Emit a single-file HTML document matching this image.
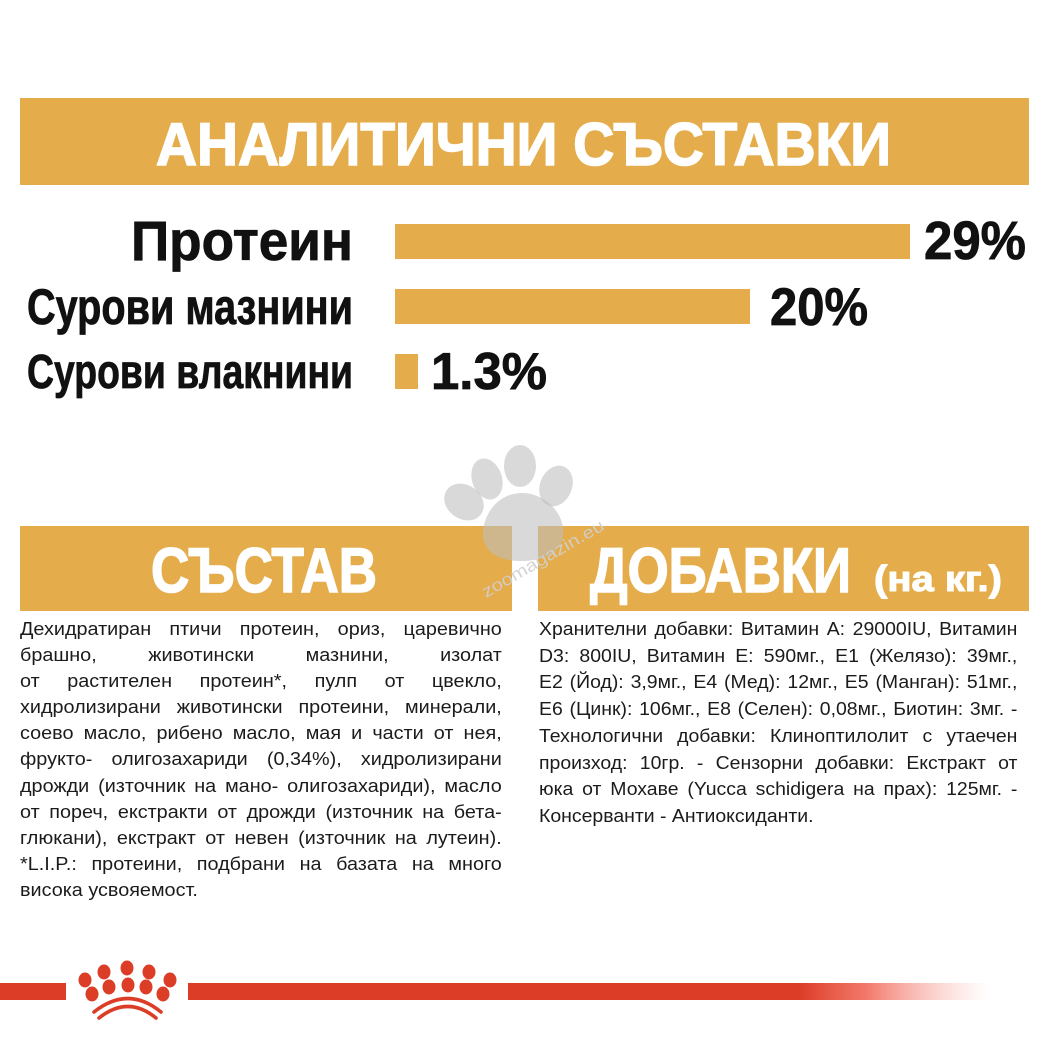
<!DOCTYPE html>
<html><head><meta charset="utf-8">
<style>
html,body{margin:0;padding:0;background:#fff;}
body{width:1049px;height:1049px;position:relative;overflow:hidden;}
svg.bg{position:absolute;left:0;top:0;}
.blk{position:absolute;font-family:"Liberation Sans","DejaVu Sans",sans-serif;font-size:18px;color:#1b1b1b;transform-origin:0 0;}
.j{display:flex;justify-content:space-between;white-space:nowrap;column-gap:3px;}
.l{white-space:nowrap;}
</style></head>
<body>
<svg class="bg" width="1049" height="1049" viewBox="0 0 1049 1049">
  <defs>
    <linearGradient id="fade" x1="0" x2="1" y1="0" y2="0">
      <stop offset="0" stop-color="#DC3D27" stop-opacity="1"/>
      <stop offset="0.35" stop-color="#F06A5A" stop-opacity="0.9"/>
      <stop offset="1" stop-color="#F8B0A8" stop-opacity="0"/>
    </linearGradient>
  </defs>
  <!-- Top banner -->
  <rect x="20" y="98" width="1009" height="87" fill="#E4AC4A"/>
  <text x="156" y="165" font-family="Liberation Sans Narrow, Liberation Sans, sans-serif" font-weight="bold" font-size="60" fill="#fff" stroke="#fff" stroke-width="1.6" textLength="735" lengthAdjust="spacingAndGlyphs">АНАЛИТИЧНИ СЪСТАВКИ</text>

  <!-- Labels -->
  <g font-family="Liberation Sans Narrow, Liberation Sans, sans-serif" font-weight="bold" fill="#111" stroke="#111" stroke-width="0.8">
    <text x="131" y="260" font-size="56" textLength="222" lengthAdjust="spacingAndGlyphs">Протеин</text>
    <text x="27" y="324" font-size="50" textLength="326" lengthAdjust="spacingAndGlyphs">Сурови мазнини</text>
    <text x="27" y="388" font-size="48" textLength="326" lengthAdjust="spacingAndGlyphs">Сурови влакнини</text>
    <text x="924" y="259" font-size="54" textLength="102" lengthAdjust="spacingAndGlyphs">29%</text>
    <text x="770" y="325" font-size="53" textLength="98" lengthAdjust="spacingAndGlyphs">20%</text>
    <text x="431" y="389" font-size="52" textLength="116" lengthAdjust="spacingAndGlyphs">1.3%</text>
  </g>

  <!-- Bars -->
  <rect x="395" y="224" width="515" height="35" fill="#E4AC4A"/>
  <rect x="395" y="289" width="355" height="35" fill="#E4AC4A"/>
  <rect x="395" y="354" width="23" height="35" fill="#E4AC4A"/>

  <!-- Section boxes -->
  <rect x="20" y="526" width="492" height="85" fill="#E4AC4A"/>
  <rect x="538" y="526" width="491" height="85" fill="#E4AC4A"/>
  <g font-family="Liberation Sans Narrow, Liberation Sans, sans-serif" font-weight="bold" fill="#fff" stroke="#fff" stroke-width="1.6">
    <text x="151" y="592" font-size="63" textLength="226" lengthAdjust="spacingAndGlyphs">СЪСТАВ</text>
    <text x="590" y="592" font-size="63" textLength="261" lengthAdjust="spacingAndGlyphs">ДОБАВКИ</text>
    <text x="874" y="591" font-size="36" stroke-width="1.1" textLength="128" lengthAdjust="spacingAndGlyphs">(на кг.)</text>
  </g>

  <!-- Paw watermark -->
  <g fill="#bebebe" fill-opacity="0.58">
    <ellipse cx="464" cy="502" rx="17" ry="21" transform="rotate(-55 464 502)"/>
    <ellipse cx="487" cy="479" rx="15" ry="21" transform="rotate(-18 487 479)"/>
    <ellipse cx="520" cy="466" rx="16" ry="21"/>
    <ellipse cx="556" cy="486" rx="16" ry="21" transform="rotate(22 556 486)"/>
    <path d="M522 493 C546 493 566 515 563 536 C560 556 540 561 520 561 C498 561 481 551 483 531 C485 511 500 493 522 493 Z"/>
  </g>
  <text x="486" y="598" font-family="Liberation Sans, sans-serif" font-size="17" fill="#cfcfcf" fill-opacity="0.9" transform="rotate(-30 486 598)" textLength="138" lengthAdjust="spacingAndGlyphs">zoomagazin.eu</text>

  <!-- Bottom red line + logo -->
  <rect x="0" y="983" width="66" height="17" fill="#DC3D27"/>
  <rect x="188" y="983" width="612" height="17" fill="#DC3D27"/>
  <rect x="800" y="983" width="190" height="17" fill="url(#fade)"/>
  <g fill="#DC3D27">
    <ellipse cx="85" cy="980" rx="6.5" ry="7.5"/>
    <ellipse cx="104" cy="972" rx="6.5" ry="7.5"/>
    <ellipse cx="127" cy="968" rx="6.5" ry="7.5"/>
    <ellipse cx="149" cy="972" rx="6.5" ry="7.5"/>
    <ellipse cx="170" cy="980" rx="6.5" ry="7.5"/>
    <ellipse cx="92" cy="994" rx="6.5" ry="7.5"/>
    <ellipse cx="109" cy="987" rx="6.5" ry="7.5"/>
    <ellipse cx="128" cy="985" rx="6.5" ry="7.5"/>
    <ellipse cx="146" cy="987" rx="6.5" ry="7.5"/>
    <ellipse cx="163" cy="994" rx="6.5" ry="7.5"/>
  </g>
  <g fill="none" stroke="#DC3D27" stroke-width="3.6" stroke-linecap="round">
    <path d="M94 1012 Q128 985 161 1012"/>
    <path d="M99 1018 Q128 995 156 1018"/>
  </g>
</svg>

<div class="blk" style="left:20px;top:616px;width:438px;line-height:26.1px;transform:scaleX(1.1);">
  <div class="j"><span>Дехидратиран</span><span>птичи</span><span>протеин,</span><span>ориз,</span><span>царевично</span></div>
  <div class="j"><span>брашно,</span><span>животински</span><span>мазнини,</span><span>изолат</span></div>
  <div class="j"><span>от</span><span>растителен</span><span>протеин*,</span><span>пулп</span><span>от</span><span>цвекло,</span></div>
  <div class="j"><span>хидролизирани</span><span>животински</span><span>протеини,</span><span>минерали,</span></div>
  <div class="j"><span>соево</span><span>масло,</span><span>рибено</span><span>масло,</span><span>мая</span><span>и</span><span>части</span><span>от</span><span>нея,</span></div>
  <div class="j"><span>фрукто-</span><span>олигозахариди</span><span>(0,34%),</span><span>хидролизирани</span></div>
  <div class="j"><span>дрожди</span><span>(източник</span><span>на</span><span>мано-</span><span>олигозахариди),</span><span>масло</span></div>
  <div class="j"><span>от</span><span>пореч,</span><span>екстракти</span><span>от</span><span>дрожди</span><span>(източник</span><span>на</span><span>бета-</span></div>
  <div class="j"><span>глюкани),</span><span>екстракт</span><span>от</span><span>невен</span><span>(източник</span><span>на</span><span>лутеин).</span></div>
  <div class="j"><span>*L.I.P.:</span><span>протеини,</span><span>подбрани</span><span>на</span><span>базата</span><span>на</span><span>много</span></div>
  <div class="l">висока усвояемост.</div>
</div>

<div class="blk" style="left:539px;top:616px;width:443px;line-height:26.7px;transform:scaleX(1.08);">
  <div class="j"><span>Хранителни</span><span>добавки:</span><span>Витамин</span><span>A:</span><span>29000IU,</span><span>Витамин</span></div>
  <div class="j"><span>D3:</span><span>800IU,</span><span>Витамин</span><span>E:</span><span>590мг.,</span><span>E1</span><span>(Желязо):</span><span>39мг.,</span></div>
  <div class="j"><span>E2</span><span>(Йод):</span><span>3,9мг.,</span><span>E4</span><span>(Мед):</span><span>12мг.,</span><span>E5</span><span>(Манган):</span><span>51мг.,</span></div>
  <div class="j"><span>E6</span><span>(Цинк):</span><span>106мг.,</span><span>E8</span><span>(Селен):</span><span>0,08мг.,</span><span>Биотин:</span><span>3мг.</span><span>-</span></div>
  <div class="j"><span>Технологични</span><span>добавки:</span><span>Клиноптилолит</span><span>с</span><span>утаечен</span></div>
  <div class="j"><span>произход:</span><span>10гр.</span><span>-</span><span>Сензорни</span><span>добавки:</span><span>Екстракт</span><span>от</span></div>
  <div class="j"><span>юка</span><span>от</span><span>Мохаве</span><span>(Yucca</span><span>schidigera</span><span>на</span><span>прах):</span><span>125мг.</span><span>-</span></div>
  <div class="l">Консерванти - Антиоксиданти.</div>
</div>
</body></html>
